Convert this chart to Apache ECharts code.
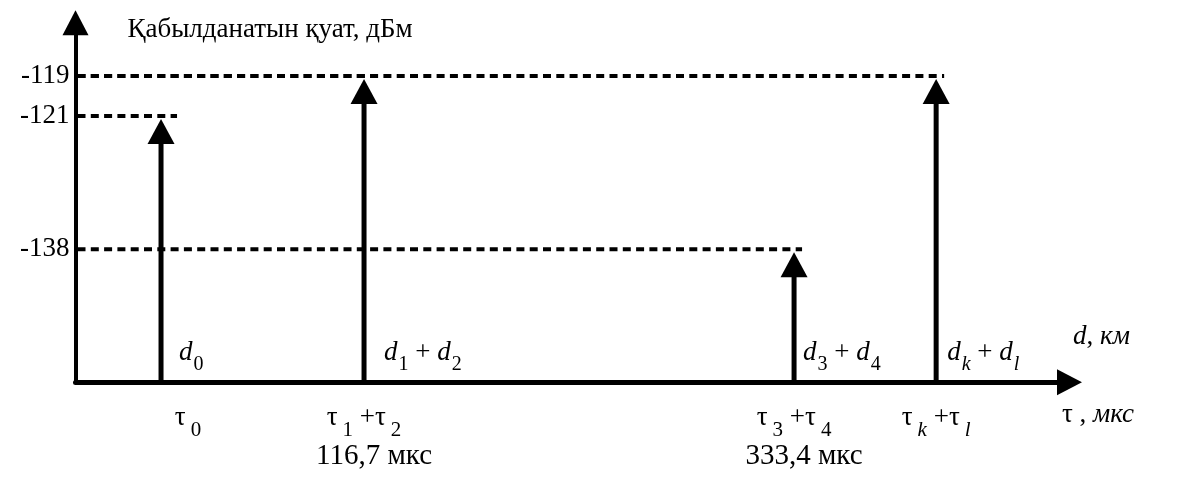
<!DOCTYPE html>
<html lang="kk">
<head>
    <meta charset="UTF-8">
    <title>Қабылданатын қуат</title>
    <style>
        html, body { margin: 0; padding: 0; background: #fff; }
        #main { width: 1184px; height: 479px; }
    </style>
</head>
<body>

<div id="main"></div>

<script type="text/javascript" src="https://cdn.jsdelivr.net/npm/echarts@6/dist/echarts.min.js"></script>
<script type="text/javascript">

    // values
    var powerTicks = ['-138', '-121', '-119'];             // дБм
    var rayPowers  = ['-121', '-119', '-138', '-119'];     // level reached by each ray
    var rayDelays  = [14.4, 116.7, 333.4, 405.0];          // мкс (first and last estimated)
    var delayNotes = ['', '116,7 мкс', '333,4 мкс', ''];
    var pathNames  = ['{i|d}{s|0}', '{i|d}{s|1}{n| + }{i|d}{s|2}', '{i|d}{s|3}{n| + }{i|d}{s|4}', '{i|d}{si|k}{n| + }{i|d}{si|l}'];
    var delayNames = ['{tp|τ}{ts|0}', '{t|τ}{ts|1}{n| +}{t|τ}{ts|2}', '{t|τ}{ts|3}{n| +}{t|τ}{ts|4}', '{t|τ}{tsi|k}{n| +}{t|τ}{tsi|l}'];

    // the power axis is only a sketch, so levels sit on fixed slots
    var slotCount = 28;
    var tickSlots = [10, 20, 23];
    var yCats = [];
    for (var i = 0; i < slotCount; i++) {
        yCats.push('');
    }
    for (var j = 0; j < powerTicks.length; j++) {
        yCats[tickSlots[j]] = powerTicks[j];
    }

    var F = '"Liberation Serif", "Times New Roman", serif';
    var FS = 27;
    var labelShift = [18, 20, 9, 11];
    var dashOver = [16, 8, 8, 8];

    var rich = {
        i:   {fontFamily: F, fontStyle: 'italic', fontSize: FS, color: '#000', fill: '#000'},
        n:   {fontFamily: F, fontSize: FS, color: '#000', fill: '#000'},
        s:   {fontFamily: F, fontSize: 20, color: '#000', fill: '#000', padding: [23, 0, 0, 1]},
        si:  {fontFamily: F, fontStyle: 'italic', fontSize: 20, color: '#000', fill: '#000', padding: [23, 0, 0, 1]}
    };
    var tauRich = {
        t:   {fontFamily: F, fontSize: FS, color: '#000', lineHeight: 39},
        tp:  {fontFamily: F, fontSize: FS, color: '#000', lineHeight: 39, padding: [0, 0, 0, 54]},
        n:   {fontFamily: F, fontSize: FS, color: '#000', lineHeight: 39},
        nt:  {fontFamily: F, fontSize: 29, color: '#000', lineHeight: 39, padding: [0, 0, 0, 20]},
        ts:  {fontFamily: F, fontSize: 21, color: '#000', lineHeight: 39, padding: [26, 0, 0, 5]},
        tsi: {fontFamily: F, fontStyle: 'italic', fontSize: 21, color: '#000', lineHeight: 39, padding: [26, 0, 0, 5]}
    };

    var rays = [];
    for (var k = 0; k < rayDelays.length; k++) {
        rays.push([rayDelays[k], rayPowers[k]]);
    }

    function renderRay(params, api) {
        var idx = params.dataIndex;
        var top = api.coord([api.value(0), api.value(1)]);
        var base = api.coord([api.value(0), 0]);
        var x = top[0], y = top[1];
        var x0 = params.coordSys.x;
        return {
            type: 'group',
            children: [
                {type: 'line', shape: {x1: x0 + 2, y1: y, x2: x + dashOver[idx], y2: y},
                    style: {stroke: '#000', lineWidth: 4, lineDash: [8, 5.3]}},
                {type: 'line', shape: {x1: x, y1: base[1], x2: x, y2: y + 26},
                    style: {stroke: '#000', lineWidth: 5}},
                {type: 'polygon', shape: {points: [[x, y + 3], [x + 13.5, y + 28], [x - 13.5, y + 28]]},
                    style: {fill: '#000'}},
                {type: 'text', x: x + labelShift[idx], y: base[1] - 29,
                    style: {text: pathNames[idx], rich: rich, align: 'left', verticalAlign: 'middle', fill: '#000'}}
            ]
        };
    }

    function delayLabel(value) {
        for (var m = 0; m < rayDelays.length; m++) {
            if (Math.abs(rayDelays[m] - value) < 1e-6) {
                return delayNames[m] + (delayNotes[m] ? '\n{nt|' + delayNotes[m] + '}' : '');
            }
        }
        return '';
    }

    var myChart = echarts.init(document.getElementById('main'));

    myChart.setOption({
        animation: false,
        backgroundColor: '#fff',
        grid: {left: 75.5, right: 114.5, top: 22.8, bottom: 96.7, containLabel: false, outerBoundsMode: 'none'},
        xAxis: [{
            type: 'value',
            min: -28.7,
            max: 472.2,
            position: 'bottom',
            splitLine: {show: false},
            axisTick: {show: false},
            axisLine: {show: true, onZero: false, lineStyle: {color: '#000', width: 5}, symbol: ['none', 'triangle'], symbolSize: [26, 25]},
            axisLabel: {
                customValues: rayDelays,
                margin: 16,
                formatter: delayLabel,
                rich: tauRich,
                color: '#000'
            },
            name: '{t|τ}{n| , }{i|мкс}',
            nameLocation: 'end',
            nameGap: -7.5,
            nameMoveOverlap: false,
            nameTextStyle: {
                align: 'left', verticalAlign: 'middle', padding: [66, 0, 0, 0],
                rich: {
                    t: {fontFamily: F, fontSize: FS, color: '#000'},
                    n: {fontFamily: F, fontSize: FS, color: '#000'},
                    i: {fontFamily: F, fontStyle: 'italic', fontSize: FS, color: '#000'}
                }
            }
        }, {
            type: 'value',
            min: -28.7,
            max: 472.2,
            position: 'bottom',
            splitLine: {show: false},
            axisTick: {show: false},
            axisLine: {show: false, onZero: false},
            axisLabel: {show: false},
            name: '{i|d}{n|, }{i|км}',
            nameLocation: 'end',
            nameGap: 3.5,
            nameMoveOverlap: false,
            nameTextStyle: {
                align: 'left', verticalAlign: 'middle', padding: [0, 0, 90, 0],
                rich: {
                    n: {fontFamily: F, fontSize: FS, color: '#000'},
                    i: {fontFamily: F, fontStyle: 'italic', fontSize: FS, color: '#000'}
                }
            }
        }],
        yAxis: {
            type: 'category',
            data: yCats,
            boundaryGap: false,
            splitLine: {show: false},
            axisTick: {show: false},
            axisLine: {show: true, onZero: false, lineStyle: {color: '#000', width: 4}, symbol: ['none', 'triangle'], symbolSize: [26, 25]},
            axisLabel: {
                interval: 0,
                margin: 6,
                padding: [6, 0, 0, 0],
                fontFamily: F,
                fontSize: FS,
                color: '#000'
            },
            name: 'Қабылданатын қуат, дБм',
            nameLocation: 'end',
            nameGap: -6.8,
            nameMoveOverlap: false,
            nameTextStyle: {
                align: 'left', verticalAlign: 'middle', padding: [0, 0, 0, 52],
                fontFamily: F, fontSize: FS, color: '#000'
            }
        },
        series: [{
            type: 'custom',
            xAxisIndex: 0,
            yAxisIndex: 0,
            clip: false,
            renderItem: renderRay,
            data: rays
        }]
    });
</script>
</body>
</html>
